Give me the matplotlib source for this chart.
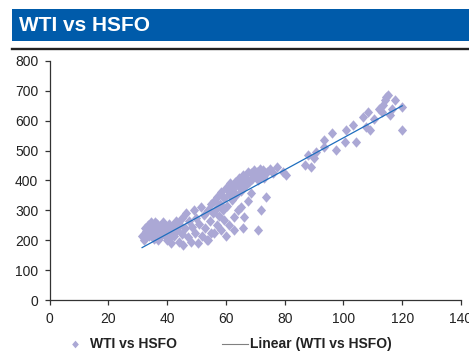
import numpy as np
import matplotlib
matplotlib.use('Agg')
import matplotlib.pyplot as plt
from matplotlib.lines import Line2D
from matplotlib.patches import Rectangle
from matplotlib.path import Path

plt.rcParams['font.family'] = ['Liberation Sans', 'DejaVu Sans']

# WTI ($/bbl) vs HSFO ($/t)
wti = [31.5, 32, 32.5, 33, 33, 33.5, 34, 34, 34.5, 35, 35, 35.5, 36, 36,
       36.5, 37, 37, 37.5, 38, 38, 38.5, 39, 39, 39.5, 40, 40.5, 41, 41,
       41.5, 42, 42.5, 43, 43, 43.5, 44, 44.5, 45, 45,
       45.5, 46, 46.5, 47, 47.5, 48, 48.5, 49, 49.5, 50, 50.5, 51, 51.5, 52,
       52.5, 53, 53.5, 54, 54.5, 55, 55,
       55.5, 56, 56.5, 57, 57.5, 58, 58.5, 59, 59.5, 60, 60.5, 61, 61.5, 62,
       62.5, 63, 63.5, 64, 64.5, 65, 65.5, 66, 66.5, 67, 67.5, 68, 68.5, 69,
       69.5, 70, 70.5, 71, 71.5, 72, 72.5, 73, 74, 75, 76, 77.5,
       54, 56, 57, 58.4, 59.4, 60, 61, 62.8, 62.8, 64, 65.2, 66, 66.3, 67.5,
       68.6, 71, 72, 73.7,
       79.4, 80.5, 86.8, 88, 89, 90, 90.8, 93.5, 93.5, 96, 97.6, 100.4, 101,
       103.3, 104.4, 106.7, 107.8, 108.4, 109, 110.5, 112, 113, 113.5, 114,
       114.6, 115.2, 115.8, 116.4, 117.5, 120, 120]
hsfo = [215, 200, 240, 230, 210, 250, 215, 245, 260, 240, 225, 205, 225, 260,
        255, 245, 200, 210, 235, 250, 260, 220, 235, 245, 200, 255, 230, 210,
        190, 250, 215, 265, 240, 235, 195, 250, 220, 275,
        185, 240, 290, 210, 265, 195, 245, 300, 225, 275, 190, 255, 310, 215,
        285, 240, 200, 300, 265, 225, 320,
        290, 330, 305, 345, 280, 320, 360, 300, 340, 375, 315, 355, 390, 335,
        370, 395, 350, 385, 410, 365, 400, 420, 380, 410, 430, 395, 425, 405,
        435, 415, 430, 400, 440, 420, 435, 410, 430, 440, 425, 445,
        201, 224, 250, 234, 268, 215, 250, 234, 279, 300, 312, 240, 279, 330,
        357, 234, 301, 345,
        429, 418, 451, 485, 444, 475, 496, 513, 535, 558, 502, 529, 569,
        585, 529, 613, 580, 630, 569, 605, 640, 630, 652, 669,
        678, 686, 619, 641, 669, 647, 569]

x_ticks = [0, 20, 40, 60, 80, 100, 120, 140]
y_ticks = [0, 100, 200, 300, 400, 500, 600, 700, 800]

W, H = 469, 354
fig = plt.figure(figsize=(W / 100, H / 100), dpi=100)

# шапка
fig.add_artist(Rectangle((12 / W, 1 - 40.5 / H), (W - 12) / W, 31.5 / H,
                         transform=fig.transFigure, color='#005BAA', lw=0))
fig.text(19 / W, 1 - 25.5 / H, 'WTI vs HSFO', color='white', fontsize=15,
         weight='bold', va='center', ha='left')
fig.add_artist(Line2D([12 / W, 1], [1 - 48.7 / H] * 2, transform=fig.transFigure,
                      color='#222222', lw=1.7))

ax = fig.add_axes([49.5 / W, 54 / H, 411.5 / W, 239 / H])

diamond = Path([(0, 1), (0.88, 0), (0, -1), (-0.88, 0), (0, 1)],
               [Path.MOVETO, Path.LINETO, Path.LINETO, Path.LINETO, Path.CLOSEPOLY])
lav = '#ABA8D5'
ax.plot(wti, hsfo, ls='none', marker=diamond, ms=7.5, color=lav, mec='none',
        clip_on=False)

# линейный тренд
k, b = np.polyfit(wti, hsfo, 1)
xs = np.array([min(wti), max(wti)])
ax.plot(xs, k * xs + b, color='#1E6EBE', lw=0.9)

ax.set_xlim(0, 140)
ax.set_ylim(0, 800)
ax.set_xticks(x_ticks)
ax.set_yticks(y_ticks)
for s in ['top', 'right']:
    ax.spines[s].set_visible(False)
for s in ['left', 'bottom']:
    ax.spines[s].set_color('#333333')
    ax.spines[s].set_linewidth(0.9)
ax.tick_params(axis='both', direction='out', length=3.6, width=0.9,
               color='#333333', labelsize=10, labelcolor='#222222')
ax.tick_params(axis='x', pad=5)
ax.tick_params(axis='y', pad=4.5)

# легенда
yl = 1 - 344 / H
fig.add_artist(Line2D([75 / W], [yl], marker=diamond, ms=5.5, color=lav,
                      mec='none', transform=fig.transFigure))
fig.text(90 / W, yl, 'WTI vs HSFO', fontsize=10, weight='bold', va='center',
         color='#222222')
fig.add_artist(Line2D([222 / W, 248 / W], [yl, yl], color='#808080', lw=0.8,
                      transform=fig.transFigure))
fig.text(250 / W, yl, 'Linear (WTI vs HSFO)', fontsize=10, weight='bold',
         va='center', color='#222222')

fig.savefig('out.png', dpi=100)
